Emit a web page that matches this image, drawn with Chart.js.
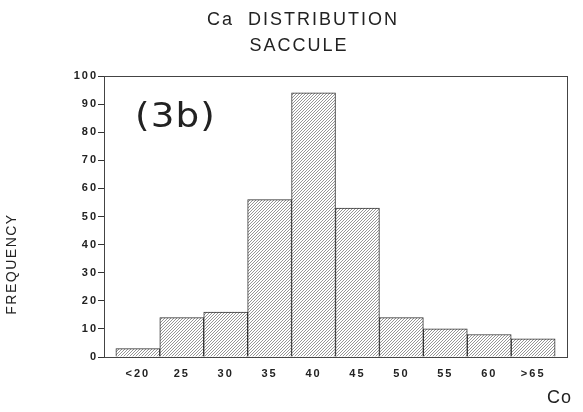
<!DOCTYPE html>
<html>
<head>
<meta charset="utf-8">
<script src="https://cdn.jsdelivr.net/npm/chart.js@4/dist/chart.umd.min.js"></script>
<style>
  body { margin: 0; background: #fff; }
  #wrap { width: 583px; height: 412px; position: relative; }
</style>
</head>
<body>
<div id="wrap"><canvas id="chart"></canvas></div>
<script>
// Data
const categories = ['<20', '25', '30', '35', '40', '45', '50', '55', '60', '>65'];
const frequency = [3, 14, 16, 56, 94, 53, 14, 10, 8, 6.5];
const yTicks = [0, 10, 20, 30, 40, 50, 60, 70, 80, 90, 100];

// Hatch pattern for bars
function makeHatch() {
  const c = document.createElement('canvas');
  c.width = 3;
  c.height = 3;
  const g = c.getContext('2d');
  g.fillStyle = '#fff';
  g.fillRect(0, 0, 3, 3);
  g.strokeStyle = '#8a8a8a';
  g.lineWidth = 0.9;
  g.beginPath();
  g.moveTo(0, 3); g.lineTo(3, 0);
  g.moveTo(-1, 1); g.lineTo(1, -1);
  g.moveTo(2, 4); g.lineTo(4, 2);
  g.stroke();
  return g.createPattern(c, 'repeat');
}

// Spaced-out tick lettering like the original plot
const spacing = {
  id: 'spacing',
  beforeDraw(chart) {
    chart.ctx.letterSpacing = '2px';
  }
};

// Titles, labels and frame
const decorations = {
  id: 'decorations',
  afterDatasetsDraw(chart) {
    const { ctx, chartArea: a } = chart;
    ctx.save();
    ctx.strokeStyle = '#444';
    ctx.lineWidth = 1;
    ctx.strokeRect(a.left + 0.5, a.top + 0.5, a.right - a.left, a.bottom - a.top);
    ctx.restore();
  },
  afterDraw(chart) {
    const { ctx } = chart;
    ctx.save();
    ctx.fillStyle = '#222';
    ctx.textAlign = 'center';
    ctx.textBaseline = 'middle';
    ctx.letterSpacing = '2px';
    ctx.font = '18px "Liberation Sans", Arial, sans-serif';
    ctx.fillText('Ca  DISTRIBUTION', 303, 20);
    ctx.fillText('SACCULE', 299, 46);

    ctx.save();
    ctx.letterSpacing = '1px';
    ctx.font = '33px "DejaVu Sans", sans-serif';
    ctx.textAlign = 'left';
    ctx.translate(135, 118);
    ctx.scale(1.13, 1);
    ctx.fillText('(3b)', 0, 0);
    ctx.restore();

    ctx.letterSpacing = '1px';
    ctx.textAlign = 'left';
    ctx.font = '18px "Liberation Sans", Arial, sans-serif';
    ctx.fillText('Co', 547, 398);

    ctx.translate(12, 264);
    ctx.rotate(-Math.PI / 2);
    ctx.textAlign = 'center';
    ctx.letterSpacing = '1.5px';
    ctx.font = '14px "Liberation Sans", Arial, sans-serif';
    ctx.fillText('FREQUENCY', 0, 0);
    ctx.restore();
  }
};

const hatch = makeHatch();
const tickFont = { family: '"Liberation Sans", Arial, sans-serif', size: 11, weight: 'bold' };

new Chart(document.getElementById('chart'), {
  type: 'bar',
  data: {
    datasets: [{
      data: frequency.map((v, i) => ({ x: i, y: v })),
      backgroundColor: hatch,
      borderColor: '#333',
      borderWidth: 1,
      barPercentage: 1,
      categoryPercentage: 1
    }]
  },
  options: {
    responsive: true,
    maintainAspectRatio: false,
    animation: false,
    layout: { padding: { top: 76, right: 16, left: 0, bottom: 0 } },
    plugins: {
      legend: { display: false },
      tooltip: { enabled: false }
    },
    scales: {
      x: {
        type: 'linear',
        offset: false,
        min: -0.77,
        max: 9.77,
        afterFit: (s) => { s.height = 55; },
        afterBuildTicks: (s) => { s.ticks = categories.map((_, i) => ({ value: i })); },
        grid: { display: false, drawTicks: false },
        border: { display: true, color: '#333' },
        ticks: {
          padding: 10,
          autoSkip: false,
          maxRotation: 0,
          color: '#222',
          font: tickFont,
          callback: (v) => categories[v]
        }
      },
      y: {
        min: 0,
        max: 100,
        afterFit: (s) => { s.width = 104; },
        afterBuildTicks: (s) => { s.ticks = yTicks.map(v => ({ value: v })); },
        grid: { drawOnChartArea: false, drawTicks: true, tickLength: 6, color: '#333' },
        border: { display: true, color: '#333' },
        ticks: {
          padding: 0,
          color: '#222',
          font: tickFont
        }
      }
    }
  },
  plugins: [spacing, decorations]
});
</script>
</body>
</html>
